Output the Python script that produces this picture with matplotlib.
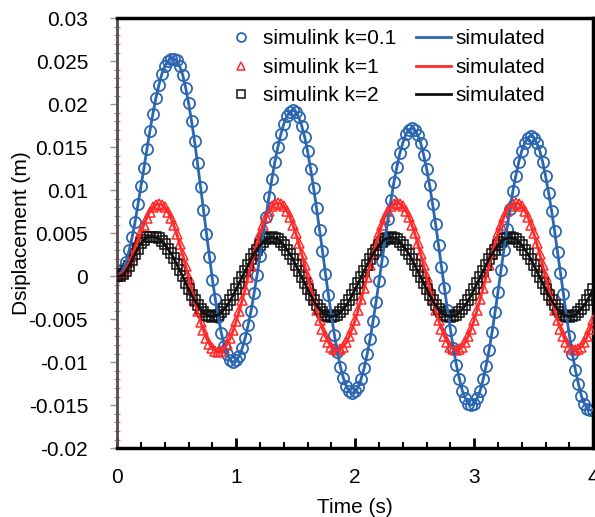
import numpy as np
import matplotlib
matplotlib.use("Agg")
import matplotlib.pyplot as plt
from matplotlib.ticker import MultipleLocator

plt.rcParams["font.family"] = ["Liberation Sans", "DejaVu Sans"]

# sample grid (s), 0.025 s step
T_END = 4.0
N_PTS = 161

# k = 0.1
disp_k01 = [
    0.0000, 0.0002, 0.0008, 0.0017, 0.0030, 0.0045, 0.0063, 0.0084, 0.0105, 0.0126,
    0.0148, 0.0169, 0.0189, 0.0207, 0.0222, 0.0235, 0.0244, 0.0250, 0.0253, 0.0253,
    0.0251, 0.0244, 0.0234, 0.0219, 0.0201, 0.0180, 0.0157, 0.0131, 0.0104, 0.0077,
    0.0049, 0.0022, -0.0004, -0.0027, -0.0048, -0.0066, -0.0081, -0.0091, -0.0098, -0.0100,
    -0.0098, -0.0093, -0.0084, -0.0072, -0.0057, -0.0040, -0.0020, 0.0001, 0.0024, 0.0047,
    0.0069, 0.0092, 0.0113, 0.0133, 0.0150, 0.0165, 0.0177, 0.0186, 0.0191, 0.0193,
    0.0191, 0.0185, 0.0175, 0.0162, 0.0145, 0.0125, 0.0103, 0.0079, 0.0054, 0.0029,
    0.0003, -0.0022, -0.0046, -0.0068, -0.0088, -0.0105, -0.0118, -0.0128, -0.0134, -0.0136,
    -0.0134, -0.0129, -0.0119, -0.0107, -0.0091, -0.0073, -0.0052, -0.0030, -0.0006, 0.0018,
    0.0042, 0.0066, 0.0088, 0.0109, 0.0127, 0.0143, 0.0155, 0.0165, 0.0170, 0.0172,
    0.0170, 0.0164, 0.0155, 0.0141, 0.0125, 0.0106, 0.0084, 0.0061, 0.0036, 0.0011,
    -0.0014, -0.0039, -0.0062, -0.0084, -0.0103, -0.0119, -0.0133, -0.0142, -0.0148, -0.0150,
    -0.0148, -0.0142, -0.0133, -0.0120, -0.0104, -0.0086, -0.0065, -0.0042, -0.0018, 0.0007,
    0.0031, 0.0055, 0.0078, 0.0099, 0.0117, 0.0133, 0.0146, 0.0155, 0.0161, 0.0163,
    0.0161, 0.0155, 0.0146, 0.0133, 0.0116, 0.0097, 0.0076, 0.0053, 0.0028, 0.0004,
    -0.0021, -0.0046, -0.0069, -0.0090, -0.0109, -0.0125, -0.0139, -0.0148, -0.0154, -0.0156,
    -0.0155,
]

# k = 1
disp_k1 = [
    0.0000, 0.0001, 0.0004, 0.0009, 0.0016, 0.0024, 0.0033, 0.0042, 0.0051, 0.0060,
    0.0068, 0.0075, 0.0080, 0.0083, 0.0084,
    0.0083, 0.0080, 0.0075, 0.0068, 0.0059, 0.0049, 0.0037, 0.0025, 0.0012, -0.0002,
    -0.0016, -0.0029, -0.0041, -0.0053, -0.0063, -0.0072, -0.0079, -0.0084, -0.0087, -0.0088,
    -0.0087, -0.0084, -0.0079, -0.0072, -0.0063, -0.0052, -0.0041, -0.0028, -0.0015, -0.0001,
    0.0012, 0.0025, 0.0038, 0.0049, 0.0060, 0.0069, 0.0076, 0.0081, 0.0084, 0.0085,
    0.0084, 0.0081, 0.0076, 0.0069, 0.0060, 0.0050, 0.0038, 0.0026, 0.0013, -0.0001,
    -0.0014, -0.0027, -0.0039, -0.0051, -0.0061, -0.0070, -0.0077, -0.0082, -0.0085, -0.0086,
    -0.0085, -0.0082, -0.0077, -0.0070, -0.0061, -0.0051, -0.0039, -0.0027, -0.0014, -0.0001,
    0.0013, 0.0026, 0.0038, 0.0050, 0.0060, 0.0069, 0.0076, 0.0081, 0.0084, 0.0085,
    0.0084, 0.0081, 0.0076, 0.0069, 0.0060, 0.0050, 0.0038, 0.0026, 0.0013, -0.0001,
    -0.0014, -0.0027, -0.0039, -0.0051, -0.0061, -0.0070, -0.0077, -0.0082, -0.0085, -0.0086,
    -0.0085, -0.0082, -0.0077, -0.0070, -0.0061, -0.0051, -0.0039, -0.0027, -0.0014, -0.0001,
    0.0013, 0.0026, 0.0038, 0.0050, 0.0060, 0.0069, 0.0076, 0.0081, 0.0084, 0.0085,
    0.0084, 0.0081, 0.0076, 0.0069, 0.0060, 0.0050, 0.0038, 0.0026, 0.0013, -0.0001,
    -0.0014, -0.0027, -0.0039, -0.0051, -0.0061, -0.0070, -0.0077, -0.0082, -0.0085, -0.0086,
    -0.0085, -0.0082, -0.0077, -0.0070, -0.0061, -0.0051,
]

# k = 2
disp_k2 = [
    0.0000, 0.0000, 0.0002, 0.0006, 0.0012, 0.0019, 0.0026, 0.0032, 0.0038, 0.0042,
    0.0045, 0.0046, 0.0046,
    0.0045, 0.0044, 0.0041, 0.0037, 0.0032, 0.0027, 0.0021, 0.0014, 0.0007, 0.0000,
    -0.0008, -0.0015, -0.0022, -0.0028, -0.0033, -0.0038, -0.0042, -0.0045, -0.0046, -0.0047,
    -0.0046, -0.0045, -0.0042, -0.0038, -0.0034, -0.0028, -0.0022, -0.0015, -0.0008, -0.0001,
    0.0006, 0.0013, 0.0020, 0.0026, 0.0031, 0.0036, 0.0040, 0.0043, 0.0044, 0.0045,
    0.0044, 0.0043, 0.0040, 0.0036, 0.0031, 0.0026, 0.0020, 0.0013, 0.0006, -0.0001,
    -0.0008, -0.0015, -0.0022, -0.0028, -0.0034, -0.0038, -0.0042, -0.0045, -0.0046, -0.0047,
    -0.0046, -0.0045, -0.0042, -0.0038, -0.0034, -0.0028, -0.0022, -0.0015, -0.0008, -0.0001,
    0.0006, 0.0013, 0.0020, 0.0026, 0.0031, 0.0036, 0.0040, 0.0043, 0.0044, 0.0045,
    0.0044, 0.0043, 0.0040, 0.0036, 0.0031, 0.0026, 0.0020, 0.0013, 0.0006, -0.0001,
    -0.0008, -0.0015, -0.0022, -0.0028, -0.0034, -0.0038, -0.0042, -0.0045, -0.0046, -0.0047,
    -0.0046, -0.0045, -0.0042, -0.0038, -0.0034, -0.0028, -0.0022, -0.0015, -0.0008, -0.0001,
    0.0006, 0.0013, 0.0020, 0.0026, 0.0031, 0.0036, 0.0040, 0.0043, 0.0044, 0.0045,
    0.0044, 0.0043, 0.0040, 0.0036, 0.0031, 0.0026, 0.0020, 0.0013, 0.0006, -0.0001,
    -0.0008, -0.0015, -0.0022, -0.0028, -0.0034, -0.0038, -0.0042, -0.0045, -0.0046, -0.0047,
    -0.0046, -0.0045, -0.0042, -0.0038, -0.0034, -0.0028, -0.0022, -0.0015,
]

labels_sim = ["simulink k=0.1", "simulink k=1", "simulink k=2"]
label_line = "simulated"
yticks = [-0.02, -0.015, -0.01, -0.005, 0, 0.005, 0.01, 0.015, 0.02, 0.025, 0.03]
ytick_labels = ["-0.02", "-0.015", "-0.01", "-0.005", "0", "0.005", "0.01",
                "0.015", "0.02", "0.025", "0.03"]

BLUE = "#2a66b1"
RED = "#ff2a2a"
BLACK = "#111111"
TICK_GREY = "#a09090"
FS = 15

t = np.linspace(0, T_END, N_PTS)

fig = plt.figure(figsize=(5.95, 5.17), dpi=100)
ax = fig.add_axes([0.197, 0.133, 0.800, 0.832])

# simulink markers
m_blue, = ax.plot(t, disp_k01, "o", ms=8, mfc="none", mec=BLUE, mew=1.3, zorder=2)
m_red, = ax.plot(t, disp_k1, "^", ms=6.5, mfc="none", mec=RED, mew=1.1, zorder=3)
m_black, = ax.plot(t, disp_k2, "s", ms=6.5, mfc="none", mec=BLACK, mew=1.1, zorder=4)

# simulated lines
l_blue, = ax.plot(t, disp_k01, "-", color=BLUE, lw=2, zorder=5)
l_red, = ax.plot(t, disp_k1, "-", color=RED, lw=2, zorder=5)
l_black, = ax.plot(t, disp_k2, "-", color=BLACK, lw=2, zorder=5)

ax.set_xlim(0, 4)
ax.set_ylim(-0.02, 0.03)
ax.set_xticks([0, 1, 2, 3, 4])
ax.xaxis.set_minor_locator(MultipleLocator(0.2))
ax.set_yticks(yticks)
ax.set_yticklabels(ytick_labels)
ax.yaxis.set_minor_locator(MultipleLocator(0.001))

ax.tick_params(axis="x", which="major", direction="in", length=7, width=2,
               labelsize=FS, pad=14, color="black")
ax.tick_params(axis="x", which="minor", direction="in", length=4, width=1.5,
               color="black")
ax.tick_params(axis="y", which="major", direction="out", length=5, width=1,
               labelsize=FS, pad=16, color=TICK_GREY)
ax.tick_params(axis="y", which="minor", direction="inout", length=4, width=0.8,
               color=TICK_GREY)

for side in ["top", "right", "bottom"]:
    ax.spines[side].set_linewidth(2.5)
    ax.spines[side].set_color("black")
ax.spines["left"].set_linewidth(2)
ax.spines["left"].set_color("#5a4a4a")

ax.set_xlabel("Time (s)", fontsize=FS, labelpad=8)
ax.set_ylabel("Dsiplacement (m)", fontsize=FS)
ax.yaxis.set_label_coords(-0.181, 0.5)

handles = [m_blue, m_red, m_black, l_blue, l_red, l_black]
labels = labels_sim + [label_line] * 3
ax.legend(handles, labels, ncol=2, loc="upper right", bbox_to_anchor=(0.916, 0.993),
          borderaxespad=0, frameon=False, fontsize=FS, numpoints=1,
          handlelength=1.7, handletextpad=0.2, columnspacing=0.95,
          labelspacing=0.45, markerscale=0.8)

fig.savefig("out.png", dpi=100)
